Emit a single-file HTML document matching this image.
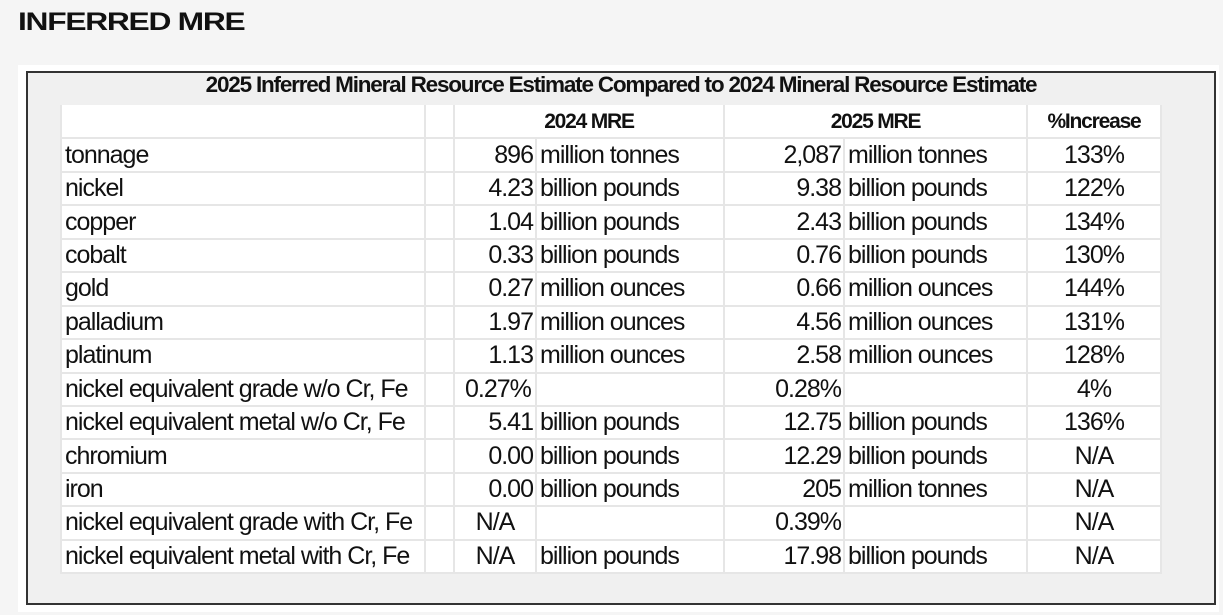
<!DOCTYPE html>
<html><head><meta charset="utf-8"><style>
body{margin:0;width:1223px;height:615px;background:#f5f5f5;position:relative;overflow:hidden;font-family:"Liberation Sans",sans-serif;}
.h{position:absolute;left:18px;top:8px;font-size:25px;font-weight:bold;letter-spacing:-1px;color:#111;transform:scaleX(1.27);transform-origin:left;}
.frame{position:absolute;left:18px;top:65px;width:1201px;height:547px;background:#fff;}
.box{position:absolute;left:26px;top:71px;width:1190px;height:534px;background:#f0f0f0;border:2px solid #333;box-sizing:border-box;}
.title{position:absolute;left:26px;width:1190px;top:72px;text-align:center;font-size:22.5px;font-weight:bold;letter-spacing:-1.2px;color:#111;}
table{position:absolute;left:60px;top:105px;border-collapse:collapse;table-layout:fixed;width:1100px;}
tr{height:33.45px}
td{background:#fff;border:2px solid #e6e6e6;padding:0 3px;font-size:25px;letter-spacing:-1px;color:#111;white-space:nowrap;overflow:hidden;line-height:29px;}
table tr:first-child td{border-top:none}
td.r{text-align:right;padding-right:2px}
td.c{text-align:center}
td.b{font-weight:bold;font-size:21px;letter-spacing:-1.2px;text-align:center}
</style></head><body>
<div class="h">INFERRED MRE</div>
<div class="frame"></div>
<div class="box"></div>
<div class="title">2025 Inferred Mineral Resource Estimate Compared to 2024 Mineral Resource Estimate</div>
<table>
<colgroup><col style="width:364px"><col style="width:29px"><col style="width:82px"><col style="width:188px"><col style="width:120px"><col style="width:183px"><col style="width:134px"></colgroup>
<tr><td></td><td></td><td class="b" colspan="2">2024 MRE</td><td class="b" colspan="2">2025 MRE</td><td class="b">%Increase</td></tr>
<tr><td>tonnage</td><td></td><td class="r">896</td><td>million tonnes</td><td class="r">2,087</td><td>million tonnes</td><td class="c">133%</td></tr>
<tr><td>nickel</td><td></td><td class="r">4.23</td><td>billion pounds</td><td class="r">9.38</td><td>billion pounds</td><td class="c">122%</td></tr>
<tr><td>copper</td><td></td><td class="r">1.04</td><td>billion pounds</td><td class="r">2.43</td><td>billion pounds</td><td class="c">134%</td></tr>
<tr><td>cobalt</td><td></td><td class="r">0.33</td><td>billion pounds</td><td class="r">0.76</td><td>billion pounds</td><td class="c">130%</td></tr>
<tr><td>gold</td><td></td><td class="r">0.27</td><td>million ounces</td><td class="r">0.66</td><td>million ounces</td><td class="c">144%</td></tr>
<tr><td>palladium</td><td></td><td class="r">1.97</td><td>million ounces</td><td class="r">4.56</td><td>million ounces</td><td class="c">131%</td></tr>
<tr><td>platinum</td><td></td><td class="r">1.13</td><td>million ounces</td><td class="r">2.58</td><td>million ounces</td><td class="c">128%</td></tr>
<tr><td>nickel equivalent grade w/o Cr, Fe</td><td></td><td style="padding-left:10px;overflow:visible">0.27%</td><td></td><td class="r">0.28%</td><td></td><td class="c">4%</td></tr>
<tr><td>nickel equivalent metal w/o Cr, Fe</td><td></td><td class="r">5.41</td><td>billion pounds</td><td class="r">12.75</td><td>billion pounds</td><td class="c">136%</td></tr>
<tr><td>chromium</td><td></td><td class="r">0.00</td><td>billion pounds</td><td class="r">12.29</td><td>billion pounds</td><td class="c">N/A</td></tr>
<tr><td>iron</td><td></td><td class="r">0.00</td><td>billion pounds</td><td class="r">205</td><td>million tonnes</td><td class="c">N/A</td></tr>
<tr><td>nickel equivalent grade with Cr, Fe</td><td></td><td class="c">N/A</td><td></td><td class="r">0.39%</td><td></td><td class="c">N/A</td></tr>
<tr><td>nickel equivalent metal with Cr, Fe</td><td></td><td class="c">N/A</td><td>billion pounds</td><td class="r">17.98</td><td>billion pounds</td><td class="c">N/A</td></tr>
</table>
</body></html>
